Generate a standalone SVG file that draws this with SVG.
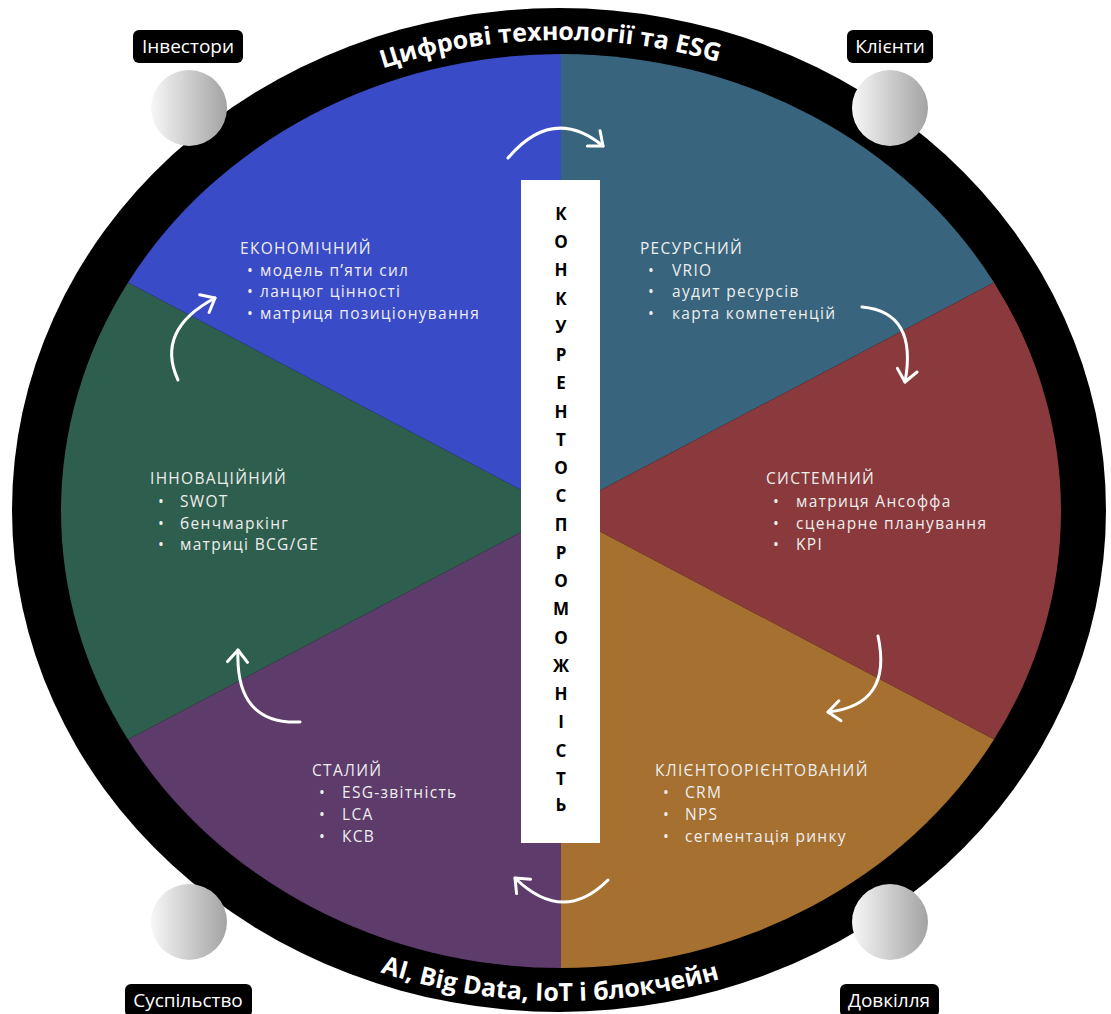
<svg xmlns="http://www.w3.org/2000/svg" width="1111" height="1014" viewBox="0 0 1111 1014">
<defs>
<linearGradient id="ball" x1="0" y1="0" x2="1" y2="0">
<stop offset="0" stop-color="#f7f7f7"/>
<stop offset="1" stop-color="#a3a3a3"/>
</linearGradient>
<marker id="ah" markerUnits="userSpaceOnUse" markerWidth="30" markerHeight="30" viewBox="-15 -15 30 30" refX="0" refY="0" orient="auto" overflow="visible">
<path d="M-12,-10 L0,0 L-12,10" fill="none" stroke="#ffffff" stroke-width="3" stroke-linecap="round" stroke-linejoin="round"/>
</marker>
<path id="topArc" d="M 41,511 A 520,471 0 0,1 1081,511"/>
<path id="botArc" d="M 27,511 A 534,490 0 0,0 1095,511"/>
</defs>
<style>
.sec{font-family:"Open Sans","Noto Sans","DejaVu Sans",sans-serif;font-size:15.5px;letter-spacing:1.3px;fill:#eeeeee}
.ring{font-family:"Open Sans","Noto Sans","DejaVu Sans",sans-serif;font-size:25px;font-weight:bold;fill:#ffffff}
.lbl{font-family:"Open Sans","Noto Sans","DejaVu Sans",sans-serif;font-size:19px;fill:#ffffff;text-anchor:middle}
.bar{font-family:"Open Sans","Noto Sans","DejaVu Sans",sans-serif;font-size:17px;font-weight:bold;fill:#000000;text-anchor:middle}
.arr{fill:none;stroke:#ffffff;stroke-width:3;stroke-linecap:round;marker-end:url(#ah)}
</style>
<rect width="1111" height="1014" fill="#ffffff"/>
<g id="ring">
<ellipse cx="559" cy="510" rx="547" ry="502" fill="#000000"/>
</g>
<g id="sectors">
<path id="s-resource" d="M561,511 L561,54 A500,457 0 0,1 994,282.5 Z" fill="#38647d"/>
<path id="s-system" d="M561,511 L994,282.5 A500,457 0 0,1 994,739.5 Z" fill="#8a3a3c"/>
<path id="s-client" d="M561,511 L994,739.5 A500,457 0 0,1 561,968 Z" fill="#a67030"/>
<path id="s-sustain" d="M561,511 L561,968 A500,457 0 0,1 128,739.5 Z" fill="#5d3b6b"/>
<path id="s-innov" d="M561,511 L128,739.5 A500,457 0 0,1 128,282.5 Z" fill="#2e5e4d"/>
<path id="s-econ" d="M561,511 L128,282.5 A500,457 0 0,1 561,54 Z" fill="#3a4bc8"/>
</g>
<g id="ring-text">
<text class="ring"><textPath href="#topArc" startOffset="49.3%" text-anchor="middle">Цифрові технології та ESG</textPath></text>
<text class="ring"><textPath href="#botArc" startOffset="49.3%" text-anchor="middle">AI, Big Data, IoT і блокчейн</textPath></text>
</g>
<g id="center-bar">
<rect x="521" y="180" width="79" height="663" fill="#ffffff"/>
<text class="bar">
<tspan x="561" y="220">К</tspan><tspan x="561" y="248">О</tspan><tspan x="561" y="276">Н</tspan><tspan x="561" y="305">К</tspan><tspan x="561" y="333">У</tspan><tspan x="561" y="361">Р</tspan><tspan x="561" y="389">Е</tspan><tspan x="561" y="418">Н</tspan><tspan x="561" y="446">Т</tspan><tspan x="561" y="474">О</tspan><tspan x="561" y="502">С</tspan><tspan x="561" y="531">П</tspan><tspan x="561" y="559">Р</tspan><tspan x="561" y="587">О</tspan><tspan x="561" y="615">М</tspan><tspan x="561" y="644">О</tspan><tspan x="561" y="672">Ж</tspan><tspan x="561" y="700">Н</tspan><tspan x="561" y="728">І</tspan><tspan x="561" y="757">С</tspan><tspan x="561" y="785">Т</tspan><tspan x="561" y="811">Ь</tspan>
</text>
</g>
<g id="node-econ">
<text class="sec" x="240" y="254">ЕКОНОМІЧНИЙ</text>
<text class="sec" x="247" y="276">•<tspan x="260">модель п’яти сил</tspan></text>
<text class="sec" x="247" y="297">•<tspan x="260">ланцюг цінності</tspan></text>
<text class="sec" x="247" y="319">•<tspan x="260">матриця позиціонування</tspan></text>
</g>
<g id="node-resource">
<text class="sec" x="640" y="254">РЕСУРСНИЙ</text>
<text class="sec" x="648" y="276">•<tspan x="672">VRIO</tspan></text>
<text class="sec" x="648" y="297">•<tspan x="672">аудит ресурсів</tspan></text>
<text class="sec" x="648" y="319">•<tspan x="672">карта компетенцій</tspan></text>
</g>
<g id="node-innov">
<text class="sec" x="150" y="484">ІННОВАЦІЙНИЙ</text>
<text class="sec" x="158" y="507">•<tspan x="180">SWOT</tspan></text>
<text class="sec" x="158" y="529">•<tspan x="180">бенчмаркінг</tspan></text>
<text class="sec" x="158" y="550">•<tspan x="180">матриці BCG/GE</tspan></text>
</g>
<g id="node-system">
<text class="sec" x="766" y="484">СИСТЕМНИЙ</text>
<text class="sec" x="773" y="507">•<tspan x="796">матриця Ансоффа</tspan></text>
<text class="sec" x="773" y="529">•<tspan x="796">сценарне планування</tspan></text>
<text class="sec" x="773" y="550">•<tspan x="796">KPI</tspan></text>
</g>
<g id="node-sustain">
<text class="sec" x="312" y="776">СТАЛИЙ</text>
<text class="sec" x="319" y="798">•<tspan x="342">ESG-звітність</tspan></text>
<text class="sec" x="319" y="820">•<tspan x="342">LCA</tspan></text>
<text class="sec" x="319" y="842">•<tspan x="342">КСВ</tspan></text>
</g>
<g id="node-client">
<text class="sec" x="655" y="776">КЛІЄНТООРІЄНТОВАНИЙ</text>
<text class="sec" x="663" y="798">•<tspan x="685">CRM</tspan></text>
<text class="sec" x="663" y="820">•<tspan x="685">NPS</tspan></text>
<text class="sec" x="663" y="842">•<tspan x="685">сегментація ринку</tspan></text>
</g>
<g id="connectors">
<path class="arr" d="M508,158 Q553,105 603,146"/>
<path class="arr" d="M862,307 Q918,312 905,382"/>
<path class="arr" d="M878,636 Q893,705 828,712"/>
<path class="arr" d="M608,880 Q563,925 515,878"/>
<path class="arr" d="M300,722 Q235,725 238,650"/>
<path class="arr" d="M178,380 Q155,330 215,298"/>
</g>
<g id="node-investors">
<circle cx="189" cy="108" r="38" fill="url(#ball)"/>
<rect x="133" y="30" width="110" height="33" rx="6" fill="#000000"/>
<text class="lbl" x="188" y="53">Інвестори</text>
</g>
<g id="node-clients">
<circle cx="890" cy="108" r="38" fill="url(#ball)"/>
<rect x="847" y="30" width="86" height="33" rx="6" fill="#000000"/>
<text class="lbl" x="890" y="53">Клієнти</text>
</g>
<g id="node-society">
<circle cx="189" cy="922" r="38" fill="url(#ball)"/>
<rect x="125" y="984" width="127" height="33" rx="6" fill="#000000"/>
<text class="lbl" x="188" y="1007">Суспільство</text>
</g>
<g id="node-environment">
<circle cx="890" cy="922" r="38" fill="url(#ball)"/>
<rect x="840" y="984" width="99" height="33" rx="6" fill="#000000"/>
<text class="lbl" x="889" y="1007">Довкілля</text>
</g>
</svg>
